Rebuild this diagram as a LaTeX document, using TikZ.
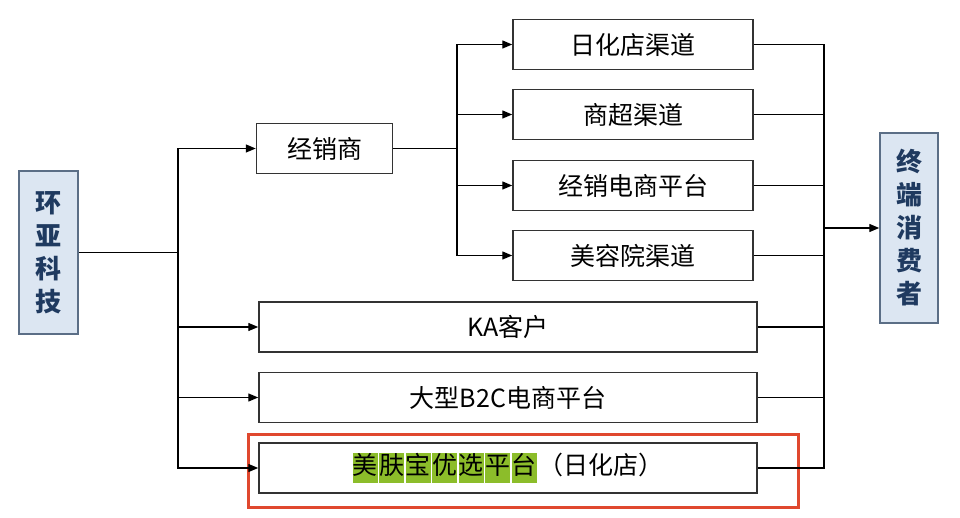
\documentclass[tikz,border=0pt]{standalone}
\usepackage{fontspec}
\setmainfont{Noto Sans CJK SC}
\usetikzlibrary{arrows.meta}
\definecolor{azulclaro}{HTML}{DCE6F2}
\definecolor{azulborda}{HTML}{5B6E86}
\definecolor{azultexto}{HTML}{1F3A60}
\definecolor{verde}{HTML}{8CBD2A}
\definecolor{vermelho}{HTML}{E0482E}
\newcommand\realce[1]{{\setlength{\fboxsep}{0pt}\colorbox{verde}{\strut #1}}\hspace{1.5pt}}
\begin{document}
\begin{tikzpicture}[x=1pt, y=-1pt,
  every node/.style={inner sep=0pt, font=\fontsize{25}{30}\selectfont},
  caixa/.style={draw=black!80, line width=1.5pt, fill=white, minimum height=50pt},
  lateral/.style={draw=azulborda, line width=1.5pt, fill=azulclaro, text=azultexto,
    align=center, font=\fontsize{26}{33}\selectfont\bfseries},
  seta/.style={-{Triangle[length=10pt, width=8pt]}}
]
\useasboundingbox (0,0) rectangle (960,518);
\tikzset{every path/.style={line width=1.4pt, draw=black}}
% lados
\node[lateral, minimum width=59pt, minimum height=163pt] (huanya) at (48.5,252.5) {环\\亚\\科\\技};
\node[lateral, minimum width=58pt, minimum height=190pt] (consumidor) at (909,228) {终\\端\\消\\费\\者};
% canais
\node[caixa, minimum width=136pt] (jingxiao) at (324.5,148.5) {经销商};
\node[caixa, minimum width=240pt] (rihua) at (633,44.5) {日化店渠道};
\node[caixa, minimum width=240pt] (shangchao) at (633,114.5) {商超渠道};
\node[caixa, minimum width=240pt] (dianshang) at (633,185.5) {经销电商平台};
\node[caixa, minimum width=240pt] (meirong) at (633,255.5) {美容院渠道};
\node[caixa, minimum width=498pt] (ka) at (508,327) {KA客户};
\node[caixa, minimum width=498pt] (btoc) at (508,397.5) {大型B2C电商平台};
\node[caixa, minimum width=498pt] (meifubao) at (508,468)
  {\realce{美}\realce{肤}\realce{宝}\realce{优}\realce{选}\realce{平}\realce{台}（日化店）};
\draw[vermelho, line width=3pt] (248,434) rectangle (798,507);
% pontos de juncao
\coordinate (tronco) at (178,252.5);
\coordinate (ramo) at (457,148.5);
\coordinate (juncao) at (824,228);
\draw (huanya.east) -- (tronco);
\foreach \alvo in {jingxiao, ka, btoc, meifubao}
  \draw[seta] (tronco) |- (\alvo.west);
\draw (jingxiao.east) -- (ramo);
\foreach \alvo in {rihua, shangchao, dianshang, meirong}
  \draw[seta] (ramo) |- (\alvo.west);
\foreach \fonte in {rihua, shangchao, dianshang, meirong, ka, btoc, meifubao}
  \draw (\fonte.east) -| (juncao);
\draw[seta] (juncao) -- (consumidor.west);
\end{tikzpicture}
\end{document}
